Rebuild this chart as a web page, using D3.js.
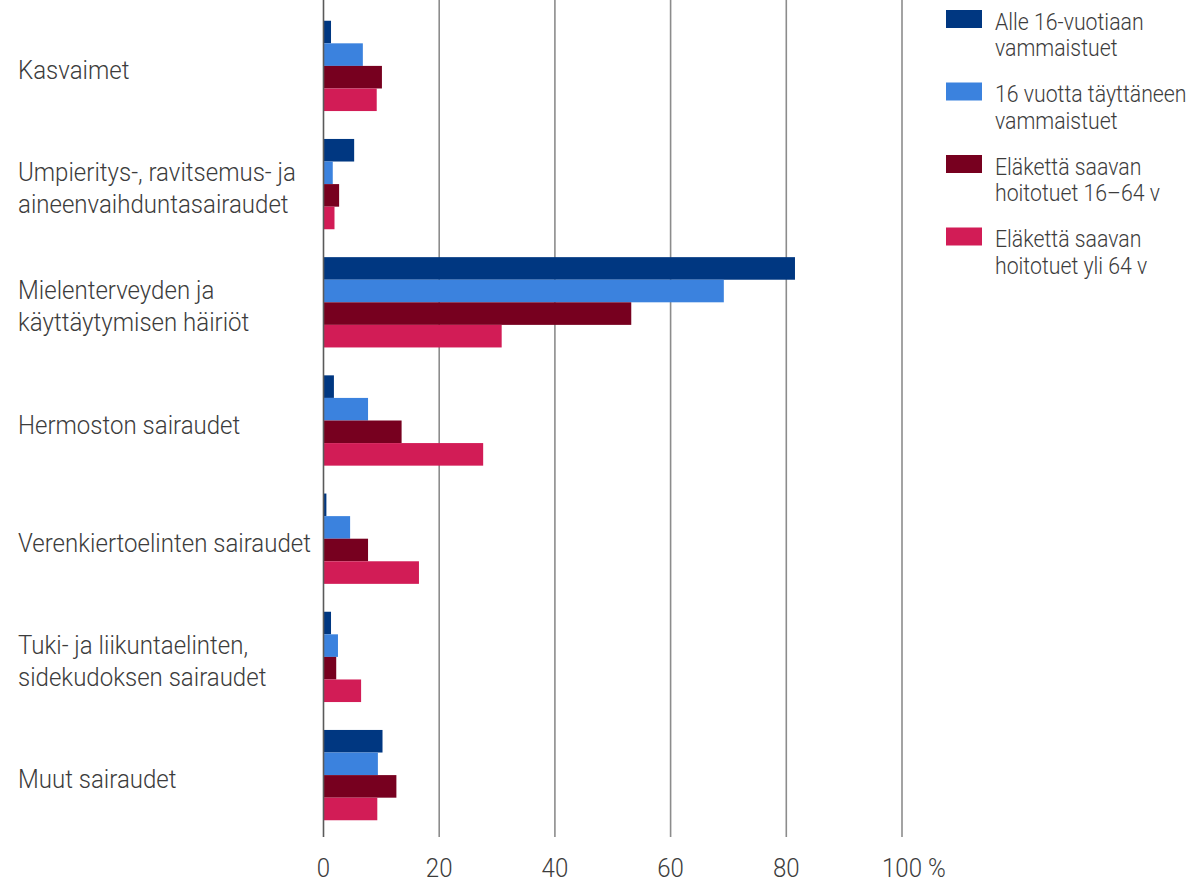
<!DOCTYPE html>
<html><head><meta charset="utf-8">
<script src="https://cdn.jsdelivr.net/npm/d3@7"></script>
<style>
body{margin:0;background:#fff;}
text{font-family:Roboto,"Noto Sans",sans-serif;font-weight:300;fill:#3c3c3c;}
</style></head><body>
<svg id="c" width="1194" height="883"></svg>
<script>
const categories = [
  ["Kasvaimet"],
  ["Umpieritys-, ravitsemus- ja", "aineenvaihduntasairaudet"],
  ["Mielenterveyden ja", "käyttäytymisen häiriöt"],
  ["Hermoston sairaudet"],
  ["Verenkiertoelinten sairaudet"],
  ["Tuki- ja liikuntaelinten,", "sidekudoksen sairaudet"],
  ["Muut sairaudet"]
];
const seriesNames = [
  ["Alle 16-vuotiaan", "vammaistuet"],
  ["16 vuotta täyttäneen", "vammaistuet"],
  ["Eläkettä saavan", "hoitotuet 16–64 v"],
  ["Eläkettä saavan", "hoitotuet yli 64 v"]
];
const alle16 =     [1.3, 5.3, 81.5, 1.8, 0.5, 1.3, 10.2];
const yli16 =      [6.8, 1.6, 69.2, 7.7, 4.6, 2.5, 9.4];
const elake1664 =  [10.1, 2.7, 53.2, 13.5, 7.7, 2.2, 12.6];
const elakeYli64 = [9.2, 1.9, 30.8, 27.6, 16.5, 6.5, 9.3];
const tickValues = [0, 20, 40, 60, 80, 100];
const tickLabels = ["0", "20", "40", "60", "80", "100 %"];
const colors = ["#003781", "#3b82de", "#77001f", "#d21c56"];

const series = [alle16, yli16, elake1664, elakeYli64];
const svg = d3.select("#c");
const SX = 0.925;

const x = d3.scaleLinear().domain([0, 100]).range([323.5, 902]);
const y = d3.scaleBand().domain(d3.range(categories.length)).range([6.8, 834.2]).paddingInner(0.236).paddingOuter(0.118);
const ySub = d3.scaleBand().domain(d3.range(series.length)).range([0, y.bandwidth()]);

// gridlines
svg.append("g").selectAll("line").data(tickValues.filter(d => d > 0)).join("line")
  .attr("x1", d => x(d)).attr("x2", d => x(d)).attr("y1", 0).attr("y2", 837)
  .attr("stroke", "#8c8c8c").attr("stroke-width", 1.6);

// bars
const groups = svg.append("g").selectAll("g").data(categories).join("g")
  .attr("transform", (d, i) => `translate(0,${y(i)})`);
groups.selectAll("rect").data((d, i) => series.map((s, k) => ({k, v: s[i]}))).join("rect")
  .attr("x", x(0)).attr("y", d => ySub(d.k))
  .attr("width", d => x(d.v) - x(0)).attr("height", ySub.bandwidth())
  .attr("fill", d => colors[d.k]);

// zero axis line
svg.append("line").attr("x1", x(0)).attr("x2", x(0)).attr("y1", 0).attr("y2", 837)
  .attr("stroke", "#5a5a5a").attr("stroke-width", 1.6);

// tick labels
svg.append("g").selectAll("text").data(tickValues).join("text")
  .attr("transform", (d) => `translate(${x(d)},877) scale(${SX},1)`)
  .attr("text-anchor", (d, i) => i === tickValues.length - 1 ? "start" : "middle")
  .attr("dx", (d, i) => i === tickValues.length - 1 ? -21.6 : 0)
  .attr("font-size", 26)
  .text((d, i) => tickLabels[i]);

// category labels
const lh = 32;
svg.append("g").selectAll("text").data(categories).join("text")
  .attr("transform", (d, i) => `translate(18,${y(i) + y.bandwidth() / 2 + 13 - (d.length - 1) * lh / 2}) scale(${SX},1)`)
  .attr("font-size", 26)
  .selectAll("tspan").data(d => d).join("tspan")
  .attr("x", 0).attr("dy", (d, j) => j === 0 ? 0 : lh).text(d => d);

// legend
const lg = svg.append("g").selectAll("g").data(seriesNames).join("g")
  .attr("transform", (d, i) => `translate(946,${10 + i * 72.5})`);
lg.append("rect").attr("width", 36).attr("height", 18).attr("fill", (d, i) => colors[i]);
lg.append("text").attr("transform", `translate(49,19.5) scale(${SX},1)`).attr("font-size", 23)
  .selectAll("tspan").data(d => d).join("tspan")
  .attr("x", 0).attr("dy", (d, j) => j === 0 ? 0 : 27).text(d => d);
</script>
</body></html>
